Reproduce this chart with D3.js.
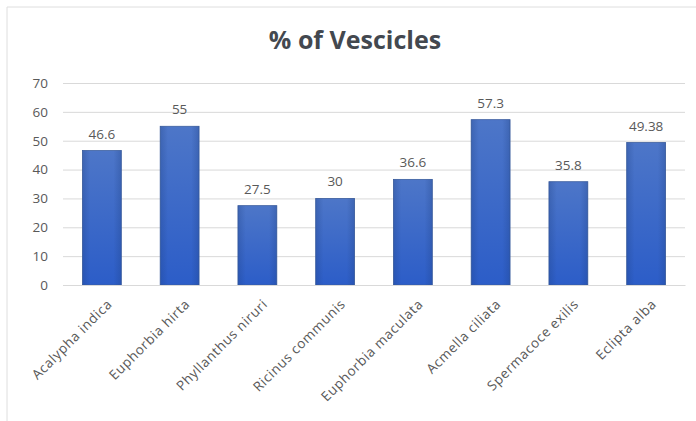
<!DOCTYPE html>
<html>
<head>
<meta charset="utf-8">
<script src="https://cdn.jsdelivr.net/npm/d3@7"></script>
<style>
  html, body { margin: 0; padding: 0; background: #fff; }
  svg { display: block; }
</style>
</head>
<body>
<svg id="chart" width="696" height="421"></svg>
<script>
// Percentage of vesicles per plant species
const categories = ["Acalypha indica", "Euphorbia hirta", "Phyllanthus niruri", "Ricinus communis",
                    "Euphorbia maculata", "Acmella ciliata", "Spermacoce exilis", "Eclipta alba"];
const values = [46.6, 55, 27.5, 30, 36.6, 57.3, 35.8, 49.38];
const valueLabels = ["46.6", "55", "27.5", "30", "36.6", "57.3", "35.8", "49.38"];
const yTicks = [0, 10, 20, 30, 40, 50, 60, 70];
const title = "% of Vescicles";

const W = 696, H = 421;
const margin = { top: 83, right: 11, bottom: 136, left: 63 };
const svg = d3.select("#chart");
const fontFamily = "'Open Sans', Lato, sans-serif";

// outer chart frame
svg.append("line").attr("x1", 7).attr("x2", W).attr("y1", 7).attr("y2", 7)
  .attr("stroke", "#dedede").attr("stroke-width", 1);
svg.append("line").attr("x1", 7).attr("x2", 7).attr("y1", 7).attr("y2", H)
  .attr("stroke", "#dedede").attr("stroke-width", 1);

const x = d3.scaleBand().domain(categories)
  .range([margin.left, W - margin.right]).paddingInner(0.5).paddingOuter(0.25);
const y = d3.scaleLinear().domain([0, 70]).range([H - margin.bottom, margin.top]);

// gradient fill for bars
const defs = svg.append("defs");
const grad = defs.append("linearGradient").attr("id", "barGrad")
  .attr("x1", 0).attr("y1", 0).attr("x2", 0).attr("y2", 1);
grad.append("stop").attr("offset", "0%").attr("stop-color", "#4d76c8");
grad.append("stop").attr("offset", "100%").attr("stop-color", "#2c5dc8");
const hgrad = defs.append("linearGradient").attr("id", "barEdge")
  .attr("x1", 0).attr("y1", 0).attr("x2", 1).attr("y2", 0);
hgrad.append("stop").attr("offset", "0%").attr("stop-color", "#1e3f80").attr("stop-opacity", 0.3);
hgrad.append("stop").attr("offset", "20%").attr("stop-color", "#1e3f80").attr("stop-opacity", 0);
hgrad.append("stop").attr("offset", "80%").attr("stop-color", "#1e3f80").attr("stop-opacity", 0);
hgrad.append("stop").attr("offset", "100%").attr("stop-color", "#1e3f80").attr("stop-opacity", 0.3);

// gridlines + y axis labels
const yAxis = d3.axisLeft(y).tickValues(yTicks).tickSize(-(W - margin.left - margin.right)).tickPadding(15);
const gy = svg.append("g").attr("transform", `translate(${margin.left},0)`).call(yAxis);
gy.select(".domain").remove();
gy.selectAll(".tick line").attr("stroke", "#d9d9d9").attr("stroke-width", 1);
gy.selectAll(".tick text").attr("fill", "#595959").attr("font-size", 13.5).attr("font-family", fontFamily);

// bars
const bars = svg.append("g");
bars.selectAll("rect.bar").data(values).join("rect")
  .attr("class", "bar")
  .attr("x", (d, i) => x(categories[i]))
  .attr("y", d => y(d))
  .attr("width", x.bandwidth())
  .attr("height", d => y(0) - y(d))
  .attr("fill", "url(#barGrad)")
  .attr("stroke", "#3d5f9f").attr("stroke-width", 0.8);
bars.selectAll("rect.edge").data(values).join("rect")
  .attr("class", "edge")
  .attr("x", (d, i) => x(categories[i]))
  .attr("y", d => y(d))
  .attr("width", x.bandwidth())
  .attr("height", d => y(0) - y(d))
  .attr("fill", "url(#barEdge)");

// value labels
svg.append("g").selectAll("text").data(values).join("text")
  .attr("x", (d, i) => x(categories[i]) + x.bandwidth() / 2)
  .attr("y", d => y(d) - 12)
  .attr("text-anchor", "middle")
  .attr("fill", "#595959").attr("font-size", 13.5).attr("font-family", fontFamily)
  .text((d, i) => valueLabels[i]);

// x axis
const xAxis = d3.axisBottom(x).tickSize(0).tickPadding(0);
const gx = svg.append("g").attr("transform", `translate(0,${y(0)})`).call(xAxis);
gx.select(".domain").attr("stroke", "#d9d9d9");
gx.selectAll(".tick text")
  .attr("fill", "#595959").attr("font-size", 13.5).attr("font-family", fontFamily)
  .attr("letter-spacing", 0.6)
  .attr("text-anchor", "end")
  .attr("dy", 0)
  .attr("transform", `translate(11,20) rotate(-45)`);

// title
svg.append("text").attr("x", 355).attr("y", 49).attr("text-anchor", "middle")
  .attr("fill", "#43484f").attr("font-size", 25).attr("font-weight", "bold")
  .attr("font-family", fontFamily).text(title);
</script>
</body>
</html>
